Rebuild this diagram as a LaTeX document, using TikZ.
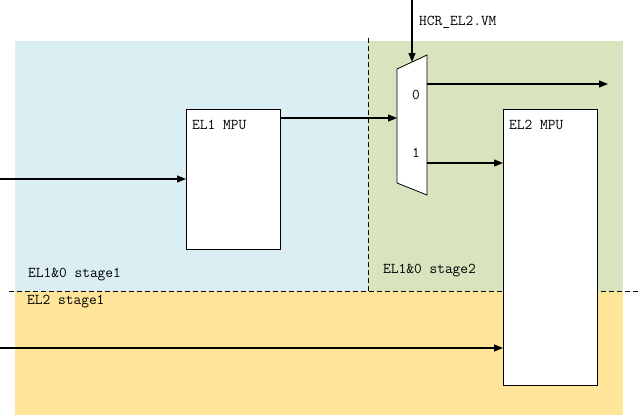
\documentclass[tikz,border=0pt]{standalone}
\usepackage{fontspec}
\usetikzlibrary{arrows.meta}
\definecolor{bgblue}{HTML}{DAEEF3}
\definecolor{bggreen}{HTML}{D7E4BD}
\definecolor{bgyellow}{HTML}{FFE599}
\tikzset{
  arr/.style={draw=black, line width=1.2pt, -{Triangle[length=9pt,width=7pt]}},
  mpu/.style={draw=black, fill=white, line width=0.8pt, inner sep=0pt, anchor=north west},
  txt/.style={font=\ttfamily\fontsize{15}{15}\selectfont, inner sep=0pt, anchor=west},
  sep/.style={draw=black, line width=0.8pt, dash pattern=on 5pt off 3pt},
}
\begin{document}
\begin{tikzpicture}[x=1pt,y=-1pt]
\useasboundingbox (0,0) rectangle (644,416);
% backgrounds
\fill[bgblue] (15,41) rectangle (368,291);
\fill[bggreen] (368,41) rectangle (623,291);
\fill[bgyellow] (15,291) rectangle (623,415);
% separators
\coordinate (vtop) at (368,38);
\coordinate (vbot) at (368,291);
\coordinate (hl) at (9,291);
\coordinate (hr) at (640,291);
\draw[sep] (vtop) -- (vbot);
\draw[sep] (hl) -- (hr);
% MPU boxes
\node[mpu, minimum width=94pt, minimum height=140pt] (el1) at (186,109) {};
\node[mpu, minimum width=94pt, minimum height=276pt] (el2) at (503,109) {};
\node[txt] (el1t) at (192,125) {EL1 MPU};
\node[txt] (el2t) at (509,125) {EL2 MPU};
% mux
\coordinate (m1) at (397,69);
\coordinate (m2) at (427,55);
\coordinate (m3) at (427,195);
\coordinate (m4) at (397,183);
\draw[fill=white, line width=0.8pt] (m1) -- (m2) -- (m3) -- (m4) -- cycle;
\node[txt, anchor=center] (zero) at (416,95) {0};
\node[txt, anchor=center] (one) at (416,153) {1};
% sel
\coordinate (selsrc) at (412,0);
\coordinate (seldst) at (412,62);
\draw[arr] (selsrc) -- (seldst);
\node[txt] (hcr) at (419,22) {HCR\_EL2.VM};
% inputs
\coordinate (in1) at (0,179);
\draw[arr] (in1) -- (el1.west |- in1);
\coordinate (muxin) at (397,118);
\draw[arr] (el1.east |- muxin) -- (muxin);
\coordinate (out0s) at (427,84);
\coordinate (out0e) at (608,84);
\draw[arr] (out0s) -- (out0e);
\coordinate (out1s) at (427,163);
\draw[arr] (out1s) -- (el2.west |- out1s);
\coordinate (in2) at (0,348);
\draw[arr] (in2) -- (el2.west |- in2);
% region labels
\node[txt] (l1) at (28,275) {EL1\&0 stage1};
\node[txt] (l2) at (27,302) {EL2 stage1};
\node[txt] (l3) at (383,271) {EL1\&0 stage2};
\end{tikzpicture}
\end{document}
